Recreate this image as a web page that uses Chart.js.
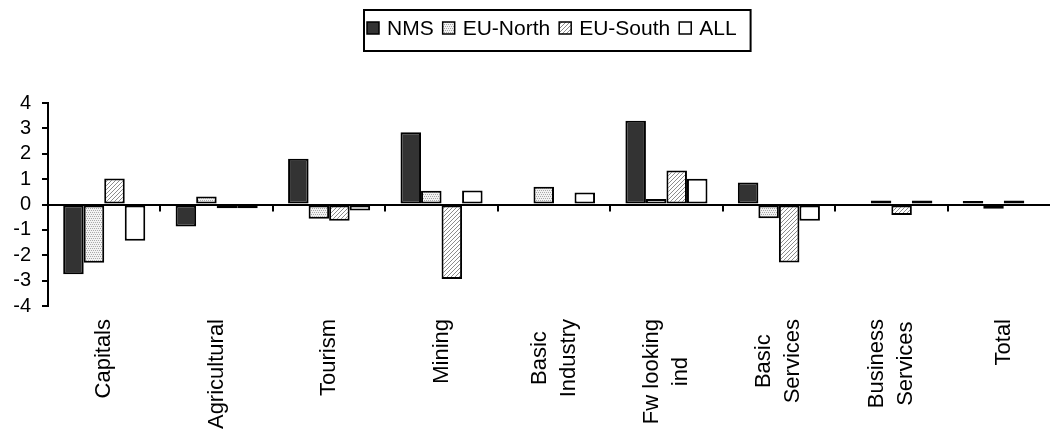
<!DOCTYPE html>
<html>
<head>
<meta charset="utf-8">
<script src="https://cdn.jsdelivr.net/npm/chart.js@4/dist/chart.umd.min.js"></script>
<style>
  html, body { margin: 0; padding: 0; background: #fff; overflow: hidden; }
  #wrap { width: 1062px; height: 432px; }
</style>
</head>
<body>
<div id="wrap"><canvas id="regions-chart"></canvas></div>
<script>
// data
const categories = ['Capitals', 'Agricultural', 'Tourism', 'Mining', ['Basic', 'Industry'],
  ['Fw looking', 'ind'], ['Basic', 'Services'], ['Business', 'Services'], 'Total'];
const seriesNames = ['NMS', 'EU-North', 'EU-South', 'ALL'];
const nms     = [-2.75, -0.87,  1.80,  2.85, 0.00, 3.30,  0.87,  0.00,  0.14];
const euNorth = [-2.30,  0.32, -0.56,  0.54, 0.70, 0.22, -0.54,  0.16, -0.17];
const euSouth = [ 1.02, -0.15, -0.64, -2.94, 0.00, 1.34, -2.29, -0.41,  0.16];
const all     = [-1.43, -0.15, -0.24,  0.55, 0.47, 1.01, -0.64,  0.16,  0.00];
const yTicks  = [-4, -3, -2, -1, 0, 1, 2, 3, 4];

(function() {
  'use strict';
  const FONT = '"Liberation Sans", Arial, sans-serif';

  // small fill patterns like the old excel ones
  function makePattern(bg, fg, pixels) {
    const c = document.createElement('canvas');
    c.width = 4; c.height = 4;
    const g = c.getContext('2d');
    g.fillStyle = bg;
    g.fillRect(0, 0, 4, 4);
    g.fillStyle = fg;
    pixels.forEach(function(p) { g.fillRect(p[0], p[1], 1, 1); });
    return g.createPattern(c, 'repeat');
  }
  const dotted = makePattern('#f2f2f2', '#a8a8a8', [[0, 0], [2, 0], [1, 2], [3, 2]]);
  const hatched = makePattern('#ffffff', '#8c8c8c', [[0, 3], [1, 2], [2, 1], [3, 0]]);

  const fills = ['#333333', dotted, hatched, '#ffffff'];
  const values = [nms, euNorth, euSouth, all];

  // legend with a box round it
  const boxedLegend = {
    id: 'boxedLegend',
    afterDraw: function(chart) {
      const ctx = chart.ctx;
      ctx.save();
      ctx.font = '21px ' + FONT;
      ctx.textBaseline = 'middle';
      let x = 367;
      const midY = 28;
      chart.data.datasets.forEach(function(ds, i) {
        if (i) x += 9;
        ctx.fillStyle = ds.backgroundColor;
        ctx.fillRect(x, midY - 6, 12, 12);
        ctx.lineWidth = 1.5;
        ctx.strokeStyle = '#000';
        ctx.strokeRect(x, midY - 6, 12, 12);
        x += 12 + 8;
        ctx.fillStyle = '#000';
        ctx.fillText(ds.label, x, midY + 1);
        x += ctx.measureText(ds.label).width;
      });
      ctx.lineWidth = 2;
      ctx.strokeRect(364, 10, x + 14 - 364, 41);
      ctx.restore();
    }
  };

  // zero line tick marks + rotated category labels
  const categoryAxis = {
    id: 'categoryAxis',
    afterDraw: function(chart) {
      const ctx = chart.ctx;
      const xs = chart.scales.x, ys = chart.scales.y;
      const area = chart.chartArea;
      const zero = ys.getPixelForValue(0);
      const half = (xs.getPixelForValue(1) - xs.getPixelForValue(0)) / 2;
      ctx.save();
      ctx.strokeStyle = '#000';
      ctx.lineWidth = 2;
      ctx.beginPath();
      for (let i = 0; i < categories.length - 1; i++) {
        const px = Math.round(xs.getPixelForValue(i) + half);
        ctx.moveTo(px, zero);
        ctx.lineTo(px, zero + 7);
      }
      ctx.stroke();

      ctx.font = '22px ' + FONT;
      ctx.fillStyle = '#000';
      ctx.textAlign = 'center';
      ctx.textBaseline = 'middle';
      const top = area.bottom + 13;
      const lineH = 29;
      categories.forEach(function(lab, i) {
        const lines = [].concat(lab);
        const w = Math.max.apply(null, lines.map(function(l) { return ctx.measureText(l).width; }));
        ctx.save();
        ctx.translate(xs.getPixelForValue(i), top);
        ctx.rotate(-Math.PI / 2);
        lines.forEach(function(l, j) {
          ctx.fillText(l, -w / 2, (j - (lines.length - 1) / 2) * lineH);
        });
        ctx.restore();
      });
      ctx.restore();
    }
  };

  new Chart(document.getElementById('regions-chart'), {
    type: 'bar',
    data: {
      labels: categories,
      datasets: seriesNames.map(function(name, i) {
        return {
          label: name,
          data: values[i],
          backgroundColor: fills[i],
          borderColor: '#000',
          borderWidth: 2,
          borderSkipped: false,
          barPercentage: 1,
          categoryPercentage: 0.73
        };
      })
    },
    options: {
      responsive: true,
      maintainAspectRatio: false,
      animation: false,
      layout: { padding: { top: 103, right: 2, bottom: 126, left: 0 } },
      plugins: {
        legend: { display: false },
        tooltip: { enabled: false }
      },
      scales: {
        x: { display: false },
        y: {
          min: yTicks[0],
          max: yTicks[yTicks.length - 1],
          afterBuildTicks: function(scale) {
            scale.ticks = yTicks.map(function(v) { return { value: v }; });
          },
          afterFit: function(scale) { scale.width = 48; },
          border: { display: true, color: '#000', width: 2 },
          grid: {
            drawOnChartArea: true,
            color: function(c) { return c.tick && c.tick.value === 0 ? '#000' : 'rgba(0,0,0,0)'; },
            lineWidth: 2,
            tickColor: '#000',
            tickLength: 6,
            tickWidth: 2
          },
          ticks: {
            color: '#000',
            padding: 11,
            autoSkip: false,
            font: { family: FONT, size: 20 }
          }
        }
      }
    },
    plugins: [boxedLegend, categoryAxis]
  });
})();
</script>
</body>
</html>
